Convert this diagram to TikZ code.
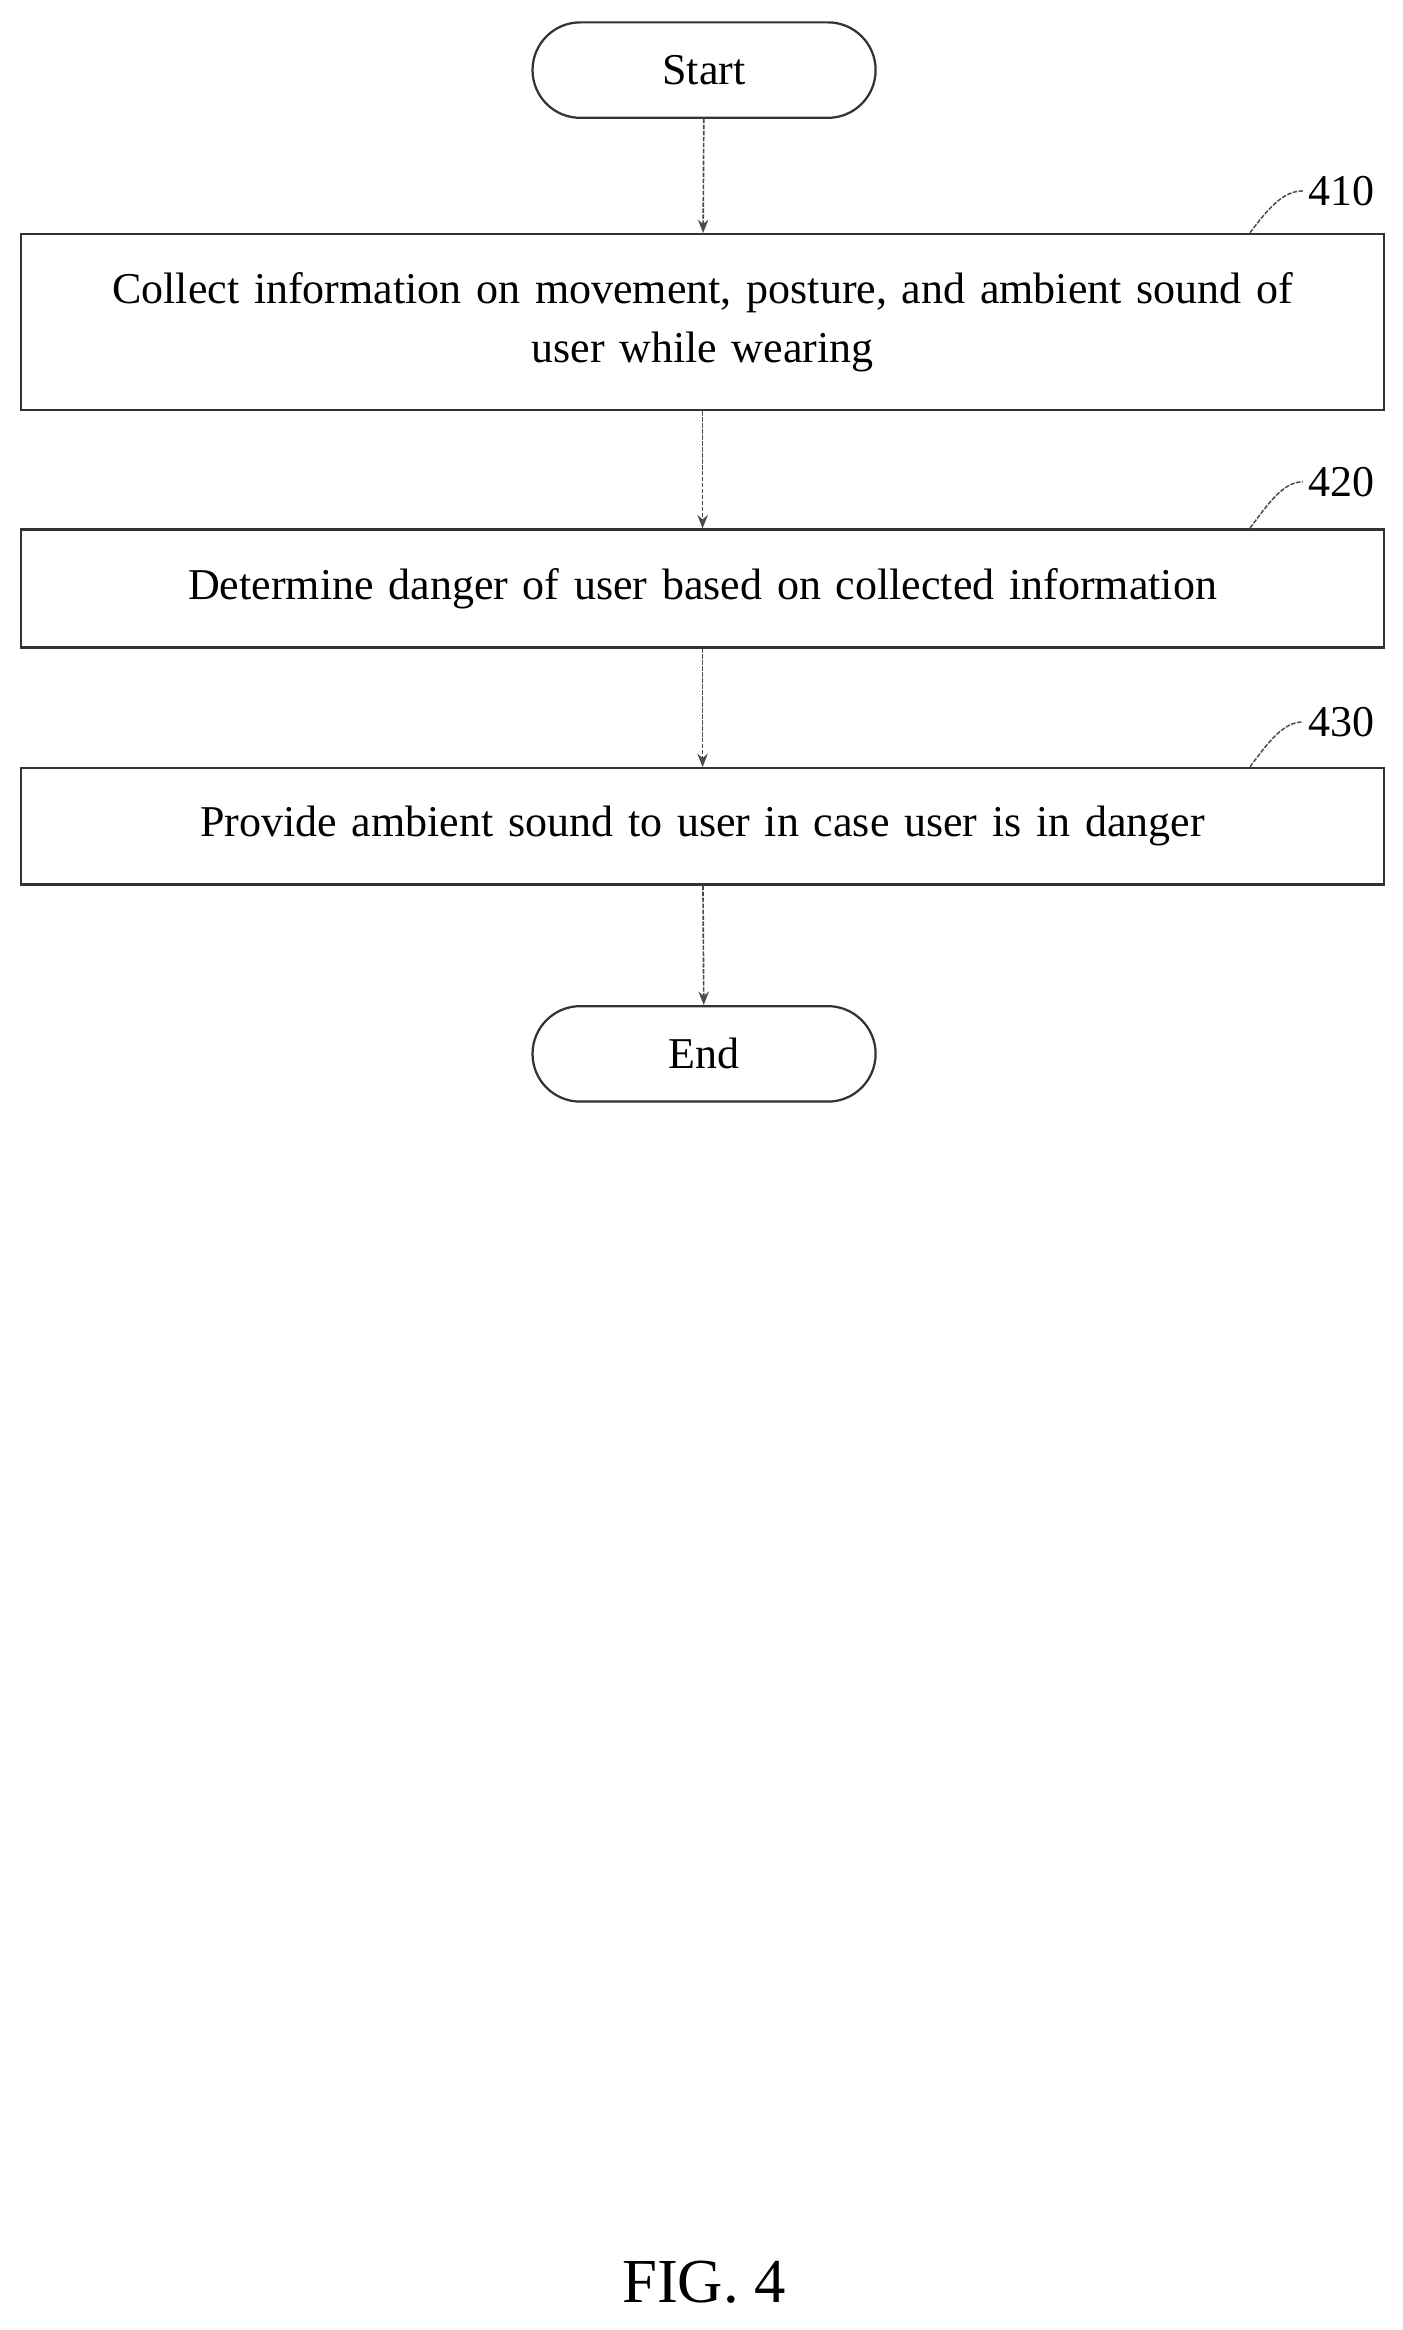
\documentclass[tikz,border=0pt]{standalone}
\usepackage{fontspec}
\setmainfont{Liberation Serif}
\usetikzlibrary{arrows.meta}
\begin{document}
\begin{tikzpicture}[x=1pt,y=-1pt,
  box/.style={draw=black!80,line width=1.5pt,minimum width=914pt,text width=840pt,align=center,font=\fontsize{29.5}{39}\selectfont},
  term/.style={draw=black!80,line width=1.5pt,rounded corners=32pt,minimum width=230pt,minimum height=64pt,font=\fontsize{29.5}{39}\selectfont},
  conn/.style={draw=black!70,line width=1.1pt,dash pattern=on 3pt off 1pt,-{Stealth[length=9pt,width=7pt]}},
  lab/.style={font=\fontsize{29.5}{32}\selectfont},
  lead/.style={draw=black!70,line width=1pt,dash pattern=on 3pt off 1pt}]
\useasboundingbox (0,0) rectangle (940,1562);
\node[term] (start) at (472,47) {Start};
\node[box,minimum height=118pt] (b410) at (471,216) {Collect information on movement, posture, and ambient sound of\\ user while wearing};
\node[box,minimum height=79pt] (b420) at (471,394.5) {Determine danger of user based on collected information};
\node[box,minimum height=78pt] (b430) at (471,554) {Provide ambient sound to user in case user is in danger};
\node[term] (end) at (472,706.5) {End};
\draw[conn] (start) -- (b410);
\draw[conn] (b410) -- (b420);
\draw[conn] (b420) -- (b430);
\draw[conn] (b430) -- (end);
\node[lab] (l410) at (899,128) {410};
\node[lab] (l420) at (899,323) {420};
\node[lab] (l430) at (899,484) {430};
\coordinate (c410) at (838,156);
\coordinate (c420) at (838,354);
\coordinate (c430) at (838,514);
\draw[lead] (c410) .. controls (850,140) and (860,128) .. (l410.west);
\draw[lead] (c420) .. controls (850,338) and (860,323) .. (l420.west);
\draw[lead] (c430) .. controls (850,498) and (860,484) .. (l430.west);
\node[font=\fontsize{42}{44}\selectfont] (fig) at (472,1530) {FIG. 4};
\end{tikzpicture}
\end{document}
